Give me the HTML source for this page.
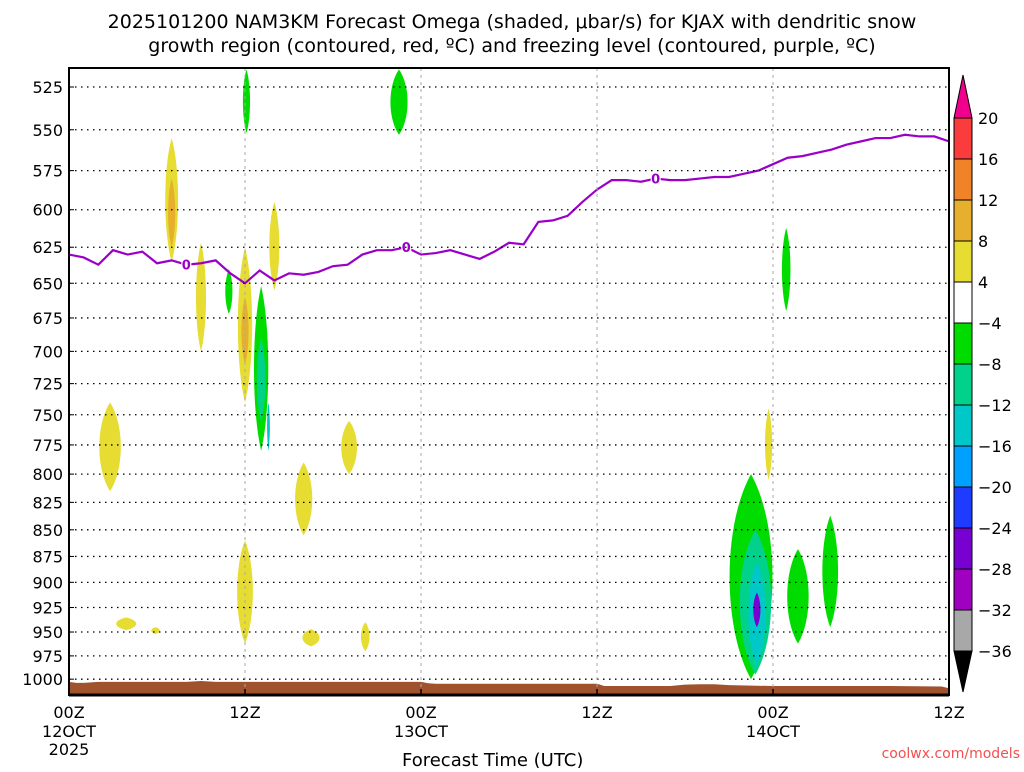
<!DOCTYPE html>
<html><head><meta charset="utf-8"><style>
body{margin:0;background:#fff;font-family:"DejaVu Sans","Liberation Sans",sans-serif}
svg text{font-family:"DejaVu Sans","Liberation Sans",sans-serif}
</style></head><body>
<svg id="c" width="1024" height="768" viewBox="0 0 1024 768">
<text x="512" y="28" text-anchor="middle" font-size="19">2025101200 NAM3KM Forecast Omega (shaded, μbar/s) for KJAX with dendritic snow</text>
<text x="512" y="52" text-anchor="middle" font-size="19">growth region (contoured, red, ºC) and freezing level (contoured, purple, ºC)</text>
<text x="402" y="766" font-size="18">Forecast Time (UTC)</text>
<text x="1020" y="758" text-anchor="end" font-size="14" fill="#f05050">coolwx.com/models</text>
</svg>
<script>
const pLabels=[525,550,575,600,625,650,675,700,725,750,775,800,825,850,875,900,925,950,975,1000];
const xTicks=[0,12,24,36,48,60];
const xTick1=["00Z","12Z","00Z","12Z","00Z","12Z"];
const xTick2=["12OCT","","13OCT","","14OCT",""];
const fzHours=[0,1,2,3,4,5,6,7,8,9,10,11,12,13,14,15,16,17,18,19,20,21,22,23,24,25,26,27,28,29,30,31,32,33,34,35,36,37,38,39,40,41,42,43,44,45,46,47,48,49,50,51,52,53,54,55,56,57,58,59,60];
const fzPres=[630,632,637,627,630,628,636,634,637,636,634,643,650,641,648,643,644,642,638,637,630,627,627,625,630,629,627,630,633,628,622,623,608,607,604,595,587,581,581,582,580,581,581,580,579,579,577,575,571,567,566,564,562,559,557,555,555,553,554,554,557];
const sfcHours=[0,0.5,1,1.5,2,8,9,10,12,24,24.5,25,36,36.5,41,42,43,44,45,48,52,56,59.5,60];
const sfcPres=[1003,1004,1004,1003.5,1003,1003,1002,1003,1003,1003,1004.5,1005,1005,1007.5,1007.5,1006,1005.5,1005.5,1006.5,1007.5,1007.5,1007.5,1008,1010];
// blobs: hour, top pressure, bottom pressure, half-width hours, omega value
const blobHour=[2.8,7.0,7.0,9.0,10.9,12.0,12.0,13.1,13.1,13.6,12.1,14.0,16.0,19.1,22.5,12.0,3.9,5.9,16.5,20.2,48.9,47.7,46.5,46.8,46.9,46.9,49.7,51.9];
const blobTop=[740,555,580,622,640,625,660,652,690,780,515,595,790,755,515,860,935,945,947,940,612,745,800,850,880,910,868,837];
const blobBot=[815,635,625,700,672,740,710,780,755,740,552,655,855,800,553,962,948,952,965,970,670,805,1000,995,985,945,962,945];
const blobHW=[0.75,0.45,0.25,0.35,0.25,0.5,0.25,0.5,0.3,0.1,0.25,0.35,0.6,0.55,0.6,0.55,0.7,0.3,0.6,0.3,0.3,0.25,1.5,1.1,0.6,0.25,0.75,0.55];
const blobVal=[6,6,10,6,-6,6,10,-6,-10,-14,-6,6,6,6,-6,6,6,6,6,6,-6,6,-6,-10,-16,-26,-6,-6];
const cbLevels=[-36,-32,-28,-24,-20,-16,-12,-8,-4,4,8,12,16,20];
const cbColors=["#a8a8a8","#a000c0","#7800d0","#1e3cff","#00a0ff","#00c8c8","#00d28c","#00dc00","#ffffff","#e6dc32","#e6af2d","#f08228","#fa3c3c"];
const NS="http://www.w3.org/2000/svg";
const svg=document.getElementById('c');
const L=69,R=949,T=68,B=695;
const px=h=>L+h*(R-L)/60;
const py=p=>87+Math.log(p/525)*919;
function el(t,a,parent){const e=document.createElementNS(NS,t);for(const k in a)e.setAttribute(k,a[k]);(parent||svg).appendChild(e);return e;}
function colorFor(v){for(let i=0;i<cbColors.length;i++){if(v>=cbLevels[i]&&v<cbLevels[i+1])return cbColors[i];}return "#000";}
const clip=el('clipPath',{id:'pc'});el('rect',{x:L,y:T,width:R-L,height:B-T},clip);
const g=el('g',{'clip-path':'url(#pc)'});


for(let i=0;i<blobHour.length;i++){
 const y1=py(blobTop[i]),y2=py(blobBot[i]),cx=px(blobHour[i]),hw=blobHW[i]*(R-L)/60;
 const d=`M${cx},${y1} C${cx+hw*1.3},${y1+(y2-y1)*0.25} ${cx+hw*1.3},${y2-(y2-y1)*0.25} ${cx},${y2} C${cx-hw*1.3},${y2-(y2-y1)*0.25} ${cx-hw*1.3},${y1+(y2-y1)*0.25} ${cx},${y1}Z`;
 const e=el('path',{d:d,fill:colorFor(blobVal[i])},g);
 
 
}
pLabels.forEach(p=>{const e=el('line',{x1:L,x2:R,y1:py(p),y2:py(p),stroke:'#000','stroke-dasharray':'1.5,4.5','stroke-width':1.3});});
xTicks.slice(1,5).forEach(h=>{const e=el('line',{x1:px(h),x2:px(h),y1:T,y2:B,stroke:'#aaa','stroke-dasharray':'3,4'});});
let td=`M${px(0)},${B}`;sfcHours.forEach((h,i)=>td+=` L${px(h)},${py(sfcPres[i])}`);td+=` L${px(60)},${B}Z`;
const terr=el('path',{d:td,fill:'#a0522d'},g);


const fl=el('polyline',{points:fzHours.map((h,i)=>px(h)+','+py(fzPres[i])).join(' '),fill:'none',stroke:'#9a00c8','stroke-width':2.2},g);


[8,23,40].forEach(h=>{const i=fzHours.indexOf(h);const x=px(h),y=py(fzPres[i]);el('rect',{x:x-5,y:y-7,width:10,height:14,fill:'#fff'},g);const t=el('text',{x:x,y:y+5,'text-anchor':'middle','font-size':13,'font-weight':'bold',fill:'#9a00c8'},g);t.textContent='0';});
const fr=el('rect',{x:L,y:T,width:R-L,height:B-T,fill:'none',stroke:'#000','stroke-width':2});


el('line',{x1:L,x2:R,y1:B,y2:B,stroke:'#000','stroke-width':3});
pLabels.forEach(p=>{const t=el('text',{x:63,y:py(p)+6,'text-anchor':'end','font-size':16});t.textContent=p;el('line',{x1:L,x2:L+5,y1:py(p),y2:py(p),stroke:'#000'});});
xTicks.forEach((h,i)=>{const x=px(h);el('line',{x1:x,x2:x,y1:B-6,y2:B,stroke:'#000','stroke-width':1.5});
 const t=el('text',{x:x,y:718,'text-anchor':'middle','font-size':16});t.textContent=xTick1[i];
 if(xTick2[i]){const t2=el('text',{x:x,y:737,'text-anchor':'middle','font-size':16});t2.textContent=xTick2[i];}});
const yr=el('text',{x:px(0),y:755,'text-anchor':'middle','font-size':16});yr.textContent='2025';
const cb=el('g',{});


const cx0=954,cw=18,cTop=118,cBot=651,n=cbColors.length,bh=(cBot-cTop)/n;
for(let i=0;i<n;i++){const y=cBot-(i+1)*bh;el('rect',{x:cx0,y:y,width:cw,height:bh,fill:cbColors[i],stroke:'#000','stroke-width':1},cb);}
el('path',{d:`M${cx0},${cTop} L${cx0+cw/2},75 L${cx0+cw},${cTop}Z`,fill:'#f0008c',stroke:'#000'},cb);
el('path',{d:`M${cx0},${cBot} L${cx0+cw/2},692 L${cx0+cw},${cBot}Z`,fill:'#000',stroke:'#000'},cb);
cbLevels.forEach((v,i)=>{const y=cBot-i*bh;const t=el('text',{x:978,y:y+6,'font-size':16},cb);t.textContent=v<0?'−'+(-v):v;});
</script>
</body></html>
